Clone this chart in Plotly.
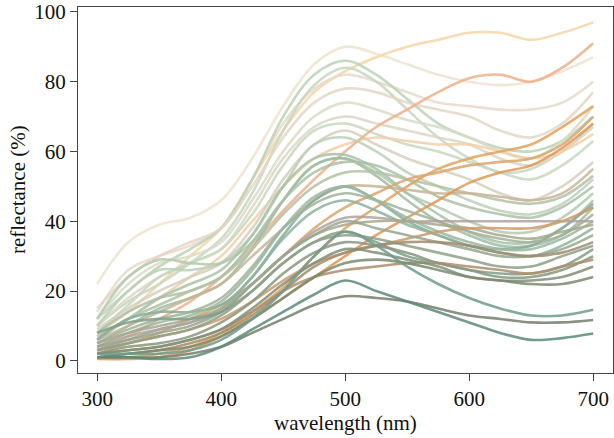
import plotly.graph_objects as go

wavelength = [300, 325, 350, 375, 400, 425, 450, 475, 500, 525, 550, 575, 600, 625, 650, 675, 700]

# reflectance spectra (%), one list per sample
s01 = [22, 34, 39, 41, 46, 58, 73, 85, 90, 88, 85, 82, 80, 79, 80, 83, 87]
s02 = [8, 14, 22, 30, 38, 52, 66, 77, 83, 87, 90, 92, 94, 94, 92, 94, 97]
s03 = [14, 26, 30, 33, 38, 52, 68, 78, 82, 80, 77, 74, 73, 72, 72, 74, 80]
s04 = [12, 20, 27, 32, 38, 52, 70, 82, 86, 82, 75, 68, 64, 61, 60, 63, 70]
s05 = [10, 17, 22, 28, 35, 48, 66, 79, 84, 80, 72, 64, 58, 54, 55, 60, 67]
s06 = [15, 24, 30, 34, 38, 50, 64, 74, 78, 77, 74, 72, 70, 66, 64, 68, 77]
s07 = [12, 22, 28, 30, 34, 46, 60, 70, 74, 72, 69, 67, 64, 60, 58, 63, 73]
s08 = [10, 18, 24, 28, 32, 44, 58, 67, 70, 68, 66, 64, 62, 58, 56, 60, 68]
s09 = [8, 16, 24, 28, 32, 42, 56, 66, 68, 65, 62, 60, 57, 54, 52, 56, 63]
s10 = [7, 12, 18, 24, 30, 40, 50, 58, 62, 64, 63, 62, 62, 60, 58, 60, 65]
s11 = [9, 15, 20, 24, 28, 38, 52, 62, 66, 62, 58, 55, 52, 48, 46, 50, 57]
s12 = [3, 7, 12, 17, 24, 33, 43, 52, 60, 67, 72, 77, 81, 82, 80, 84, 91]
s13 = [10, 20, 26, 26, 28, 36, 50, 62, 64, 60, 54, 50, 46, 43, 42, 45, 52]
s14 = [12, 24, 29, 28, 28, 34, 46, 56, 58, 54, 48, 44, 40, 37, 37, 41, 48]
s15 = [6, 12, 18, 22, 26, 36, 50, 58, 59, 55, 48, 42, 37, 34, 34, 38, 46]
s16 = [5, 10, 15, 18, 22, 32, 46, 56, 58, 53, 46, 40, 36, 33, 33, 36, 44]
s17 = [8, 14, 18, 20, 24, 34, 46, 54, 57, 56, 52, 47, 44, 42, 41, 44, 50]
s18 = [7, 12, 16, 20, 24, 32, 42, 50, 54, 54, 52, 50, 48, 46, 45, 47, 53]
s19 = [6, 10, 14, 18, 22, 30, 38, 46, 50, 50, 49, 48, 48, 47, 46, 48, 55]
s20 = [2, 5, 8, 12, 16, 22, 30, 38, 44, 48, 52, 54, 56, 57, 58, 62, 70]
s21 = [1, 1, 2, 4, 8, 14, 21, 30, 38, 44, 50, 55, 58, 60, 62, 67, 73]
s22 = [0.5, 0.5, 1, 3, 7, 12, 18, 24, 30, 36, 41, 46, 51, 54, 56, 61, 68]
s23 = [6, 12, 14, 14, 16, 24, 36, 46, 50, 46, 40, 36, 33, 32, 33, 38, 45]
s24 = [5, 9, 12, 14, 18, 27, 38, 45, 48, 46, 43, 40, 37, 35, 34, 36, 42]
s25 = [4, 8, 11, 13, 17, 26, 38, 47, 50, 46, 41, 37, 34, 32, 32, 35, 40]
s26 = [3, 6, 9, 11, 15, 24, 35, 43, 46, 43, 39, 36, 33, 31, 30, 33, 38]
s27 = [4, 7, 9, 11, 14, 22, 30, 37, 41, 41, 40, 40, 40, 40, 40, 40, 40]
s28 = [5, 8, 10, 12, 15, 22, 30, 36, 39, 40, 40, 39, 38, 36, 35, 37, 39]
s29 = [3, 5, 7, 9, 12, 17, 23, 28, 31, 33, 35, 37, 38, 38, 38, 40, 44]
s30 = [4, 6, 8, 10, 14, 22, 30, 36, 40, 38, 36, 34, 32, 30, 30, 32, 36]
s31 = [8, 11, 12, 12, 14, 20, 28, 34, 37, 34, 30, 28, 26, 25, 25, 27, 32]
s32 = [3, 5, 7, 9, 13, 20, 28, 34, 36, 35, 33, 31, 29, 27, 27, 30, 33]
s33 = [1, 2, 3, 5, 8, 13, 20, 27, 31, 33, 34, 34, 33, 31, 30, 31, 34]
s34 = [2, 4, 5, 7, 11, 17, 25, 31, 34, 33, 31, 28, 26, 24, 24, 26, 30]
s35 = [2, 3, 4, 6, 9, 14, 20, 24, 26, 27, 28, 28, 27, 26, 25, 27, 29]
s36 = [2, 3, 4, 6, 9, 15, 22, 28, 32, 31, 29, 27, 24, 23, 23, 24, 27]
s37 = [1, 2, 3, 4, 7, 12, 18, 24, 28, 29, 28, 26, 24, 23, 22, 22, 24]
s38 = [2, 2, 2, 3, 6, 12, 20, 30, 37, 33, 27, 22, 18, 15, 13, 13, 14.6]
s39 = [1, 1, 1, 2, 4, 8, 12, 16, 18.5, 18, 17, 15, 13, 12, 11, 11, 11.7]
s40 = [1, 1, 0.5, 1, 4, 9, 14, 19, 23, 20, 17, 14, 11, 8, 6, 6.5, 7.8]

series = [s01, s02, s03, s04, s05, s06, s07, s08, s09, s10,
          s11, s12, s13, s14, s15, s16, s17, s18, s19, s20,
          s21, s22, s23, s24, s25, s26, s27, s28, s29, s30,
          s31, s32, s33, s34, s35, s36, s37, s38, s39, s40]

colors = ["#efe3cf", "#f6d7a6", "#e8dacb", "#bcd2b6", "#c6d8c0", "#e4d6c6", "#d9dcc7", "#dcd8c4",
          "#c8d8c0", "#f3cfaa", "#d6cfc0", "#efb08a", "#bcd0b8", "#b3caad", "#a8c4a8", "#9fbca4",
          "#abc1a7", "#b4c3a4", "#c8b496", "#d9a66f", "#e4a25e", "#e29752", "#86ad9c", "#a2b29a",
          "#9ab89f", "#8fb29e", "#b1a2a0", "#a9a88c", "#d09a6a", "#96a890", "#7fa08a", "#8fa088",
          "#a08c6e", "#889880", "#b08e6c", "#7f9078", "#7b8a70", "#6f9c8c", "#73806a", "#5e8a78"]

x_title = "wavelength (nm)"
y_title = "reflectance (%)"

fig = go.Figure()
for vals, col in zip(series, colors):
    fig.add_trace(go.Scatter(
        x=wavelength, y=vals, mode="lines",
        line=dict(color=col, width=2.6, shape="spline", smoothing=1.0),
        opacity=0.85, showlegend=False, hoverinfo="skip"))

font = "Liberation Serif, Times New Roman, serif"
axis_common = dict(
    showline=True, linecolor="#444444", linewidth=1.3, mirror=True,
    ticks="outside", ticklen=7, tickwidth=1.3, tickcolor="#444444",
    showgrid=False, zeroline=False, automargin=False,
    tickfont=dict(family=font, size=21, color="#111111"),
)
fig.update_layout(
    width=614, height=438,
    margin=dict(l=78, r=1, t=7, b=65),
    paper_bgcolor="white", plot_bgcolor="white",
    xaxis=dict(range=[284.5, 716], tickvals=[300, 400, 500, 600, 700], **axis_common),
    yaxis=dict(range=[-3.5, 101.4], tickvals=[0, 20, 40, 60, 80, 100], **axis_common),
    annotations=[
        dict(text=x_title, xref="paper", yref="paper", x=0.5, y=-0.137,
             xanchor="center", yanchor="middle", showarrow=False,
             font=dict(family=font, size=21, color="#111111")),
        dict(text=y_title, xref="paper", yref="paper", x=-0.112, y=0.5,
             xanchor="center", yanchor="middle", showarrow=False, textangle=-90,
             font=dict(family=font, size=21, color="#111111")),
    ],
)
fig.write_html("out.html", config={"displayModeBar": False},
               post_script="document.body.style.margin='0';document.body.style.overflow='hidden';")
